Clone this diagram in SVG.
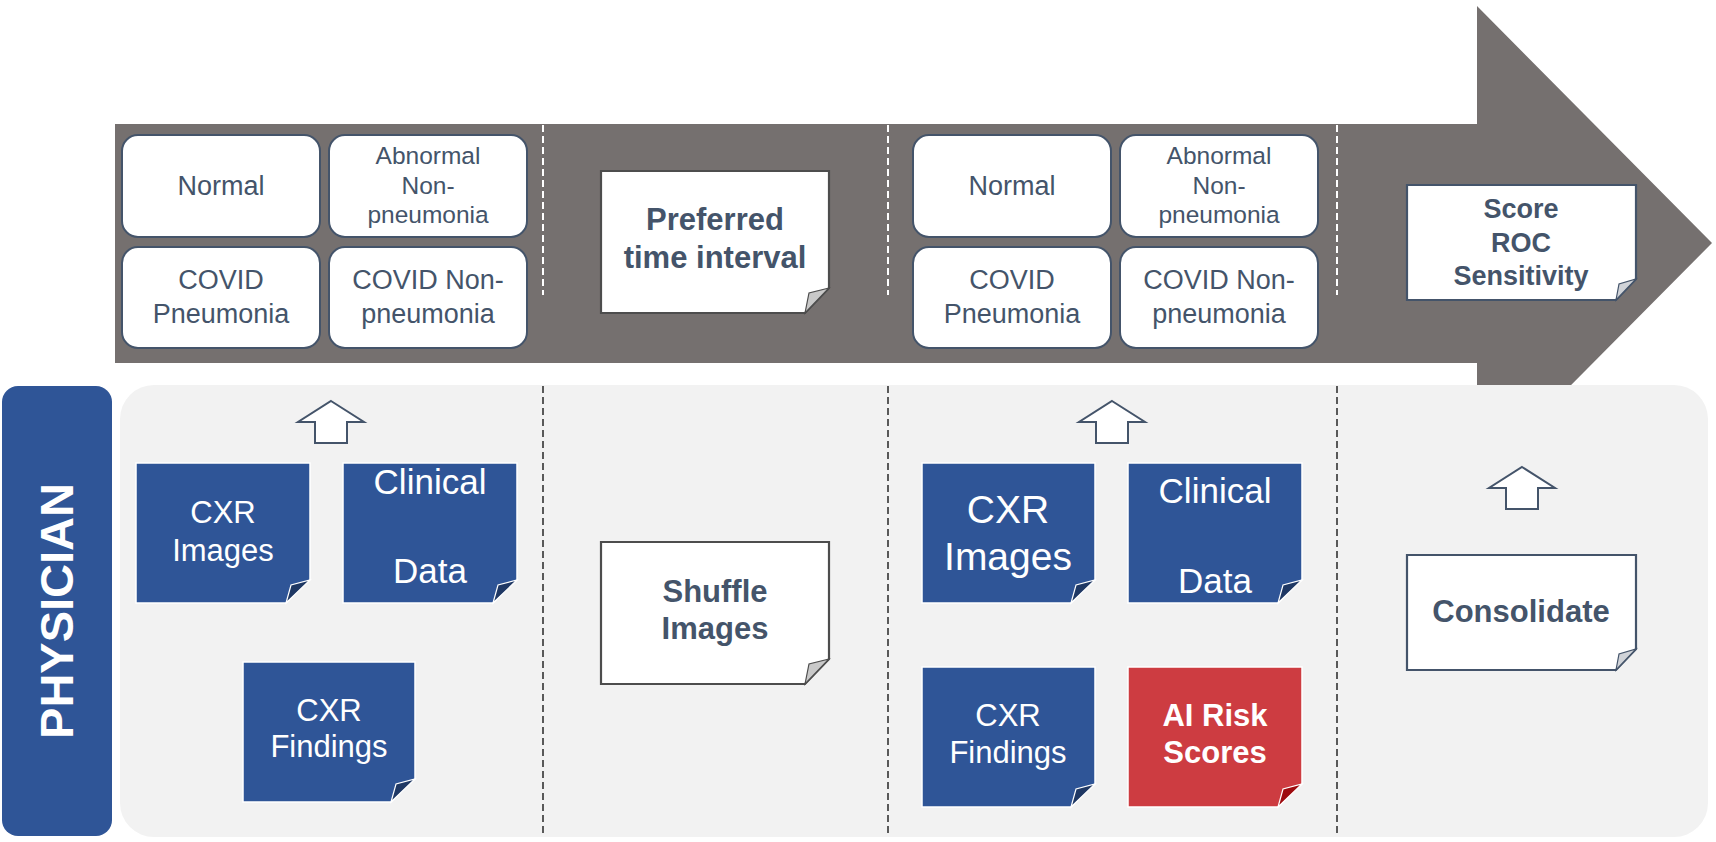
<svg xmlns="http://www.w3.org/2000/svg" width="1716" height="842" viewBox="0 0 1716 842">
<style>
.t{font-family:"Liberation Sans",Arial,sans-serif;fill:#44546a;text-anchor:middle}
.b{font-weight:bold}
.w{fill:#ffffff}
.cat{fill:#ffffff;stroke:#44546a;stroke-width:2}
.noteW{fill:#ffffff;stroke:#4d4d4d;stroke-width:2.2}
.noteS{fill:#ffffff;stroke:#44546a;stroke-width:2.2}
.foldW{fill:#c9c9c9;stroke:#4d4d4d;stroke-width:1.2}
.foldS{fill:#d0d3d8;stroke:#44546a;stroke-width:1.2}
.blue{fill:#2f5597;stroke:#ffffff;stroke-width:1.5}
.red{fill:#cd3c41;stroke:#ffffff;stroke-width:1.5}
.foldB{fill:#1f3864;stroke:#ffffff;stroke-width:1.2}
.foldR{fill:#9e0b0f;stroke:#ffffff;stroke-width:1.2}
.up{fill:#ffffff;stroke:#44546a;stroke-width:2}
.dW{stroke:#ffffff;stroke-width:2;stroke-dasharray:7 4;fill:none}
.dD{stroke:#595959;stroke-width:2;stroke-dasharray:7 4;fill:none}
</style>
<g id="timeline-arrow">
<polygon points="115,124 1477,124 1477,6 1712,243 1477,480 1477,363 115,363" fill="#75706f"/>
</g>
<g id="physician-panel">
<rect x="120" y="385" width="1588" height="452" rx="34" fill="#f2f2f2"/>
</g>
<g id="physician-label">
<rect x="2" y="386" width="110" height="450" rx="16" fill="#2f5597"/>
<text class="t b w" font-size="47" transform="translate(73,611) rotate(-90)">PHYSICIAN</text>
</g>
<g id="connectors">
<line class="dW" x1="543" y1="125" x2="543" y2="295"/>
<line class="dW" x1="888" y1="125" x2="888" y2="295"/>
<line class="dW" x1="1337" y1="125" x2="1337" y2="295"/>
<line class="dD" x1="543" y1="386" x2="543" y2="837"/>
<line class="dD" x1="888" y1="386" x2="888" y2="837"/>
<line class="dD" x1="1337" y1="386" x2="1337" y2="837"/>
<polygon class="up" points="331,401 364,422 347,422 347,443 315,443 315,422 298,422"/>
<polygon class="up" points="1112,401 1145,422 1128,422 1128,443 1096,443 1096,422 1079,422"/>
<polygon class="up" points="1522,467 1555,488 1538,488 1538,509 1506,509 1506,488 1489,488"/>
</g>
<g id="normal-1">
<rect class="cat" x="122" y="135" width="198" height="102" rx="16"/>
<text class="t" font-size="27" x="221" y="195">Normal</text>
</g>
<g id="abnormal-1">
<rect class="cat" x="329" y="135" width="198" height="102" rx="16"/>
<text class="t" font-size="24.5" x="428" y="164">Abnormal</text>
<text class="t" font-size="24.5" x="428" y="194">Non-</text>
<text class="t" font-size="24.5" x="428" y="223">pneumonia</text>
</g>
<g id="covid-pneumonia-1">
<rect class="cat" x="122" y="247" width="198" height="101" rx="16"/>
<text class="t" font-size="27" x="221" y="289">COVID</text>
<text class="t" font-size="27" x="221" y="323">Pneumonia</text>
</g>
<g id="covid-nonpneumonia-1">
<rect class="cat" x="329" y="247" width="198" height="101" rx="16"/>
<text class="t" font-size="27" x="428" y="289">COVID Non-</text>
<text class="t" font-size="27" x="428" y="323">pneumonia</text>
</g>
<g id="preferred-time">
<polygon class="noteW" points="601,171 829,171 829,288 805,313 601,313"/>
<polygon class="foldW" points="805,313 809,293 829,288"/>
<text class="t b" font-size="31" x="715" y="230">Preferred</text>
<text class="t b" font-size="31" x="715" y="268">time interval</text>
</g>
<g id="normal-2">
<rect class="cat" x="913" y="135" width="198" height="102" rx="16"/>
<text class="t" font-size="27" x="1012" y="195">Normal</text>
</g>
<g id="abnormal-2">
<rect class="cat" x="1120" y="135" width="198" height="102" rx="16"/>
<text class="t" font-size="24.5" x="1219" y="164">Abnormal</text>
<text class="t" font-size="24.5" x="1219" y="194">Non-</text>
<text class="t" font-size="24.5" x="1219" y="223">pneumonia</text>
</g>
<g id="covid-pneumonia-2">
<rect class="cat" x="913" y="247" width="198" height="101" rx="16"/>
<text class="t" font-size="27" x="1012" y="289">COVID</text>
<text class="t" font-size="27" x="1012" y="323">Pneumonia</text>
</g>
<g id="covid-nonpneumonia-2">
<rect class="cat" x="1120" y="247" width="198" height="101" rx="16"/>
<text class="t" font-size="27" x="1219" y="289">COVID Non-</text>
<text class="t" font-size="27" x="1219" y="323">pneumonia</text>
</g>
<g id="score-roc">
<polygon class="noteS" points="1407,185 1636,185 1636,279 1616,300 1407,300"/>
<polygon class="foldS" points="1616,300 1619,284 1636,279"/>
<text class="t b" font-size="27" x="1521" y="218">Score</text>
<text class="t b" font-size="27" x="1521" y="252">ROC</text>
<text class="t b" font-size="27" x="1521" y="285">Sensitivity</text>
</g>
<g id="cxr-images-1">
<polygon class="blue" points="136,463 310,463 310,580 286,603 136,603"/>
<polygon class="foldB" points="286,603 291,585 310,580"/>
<text class="t w" font-size="31" x="223" y="523">CXR</text>
<text class="t w" font-size="31" x="223" y="561">Images</text>
</g>
<g id="clinical-data-1">
<polygon class="blue" points="343,463 517,463 517,580 493,603 343,603"/>
<polygon class="foldB" points="493,603 498,585 517,580"/>
<text class="t w" font-size="35" x="430" y="494">Clinical</text>
<text class="t w" font-size="35" x="430" y="583">Data</text>
</g>
<g id="cxr-findings-1">
<polygon class="blue" points="243,662 415,662 415,779 391,802 243,802"/>
<polygon class="foldB" points="391,802 396,784 415,779"/>
<text class="t w" font-size="31" x="329" y="721">CXR</text>
<text class="t w" font-size="31" x="329" y="757">Findings</text>
</g>
<g id="shuffle-images">
<polygon class="noteW" points="601,542 829,542 829,659 805,684 601,684"/>
<polygon class="foldW" points="805,684 809,664 829,659"/>
<text class="t b" font-size="31" x="715" y="602">Shuffle</text>
<text class="t b" font-size="31" x="715" y="639">Images</text>
</g>
<g id="cxr-images-2">
<polygon class="blue" points="922,463 1095,463 1095,580 1071,603 922,603"/>
<polygon class="foldB" points="1071,603 1076,585 1095,580"/>
<text class="t w" font-size="39" x="1008" y="523">CXR</text>
<text class="t w" font-size="39" x="1008" y="570">Images</text>
</g>
<g id="clinical-data-2">
<polygon class="blue" points="1128,463 1302,463 1302,580 1278,603 1128,603"/>
<polygon class="foldB" points="1278,603 1283,585 1302,580"/>
<text class="t w" font-size="35" x="1215" y="503">Clinical</text>
<text class="t w" font-size="35" x="1215" y="593">Data</text>
</g>
<g id="cxr-findings-2">
<polygon class="blue" points="922,667 1095,667 1095,784 1071,807 922,807"/>
<polygon class="foldB" points="1071,807 1076,789 1095,784"/>
<text class="t w" font-size="31" x="1008" y="726">CXR</text>
<text class="t w" font-size="31" x="1008" y="763">Findings</text>
</g>
<g id="ai-risk-scores">
<polygon class="red" points="1128,667 1302,667 1302,784 1278,807 1128,807"/>
<polygon class="foldR" points="1278,807 1283,789 1302,784"/>
<text class="t b w" font-size="31" x="1215" y="726">AI Risk</text>
<text class="t b w" font-size="31" x="1215" y="763">Scores</text>
</g>
<g id="consolidate">
<polygon class="noteS" points="1407,555 1636,555 1636,649 1616,670 1407,670"/>
<polygon class="foldS" points="1616,670 1619,654 1636,649"/>
<text class="t b" font-size="31" x="1521" y="622">Consolidate</text>
</g>
</svg>
